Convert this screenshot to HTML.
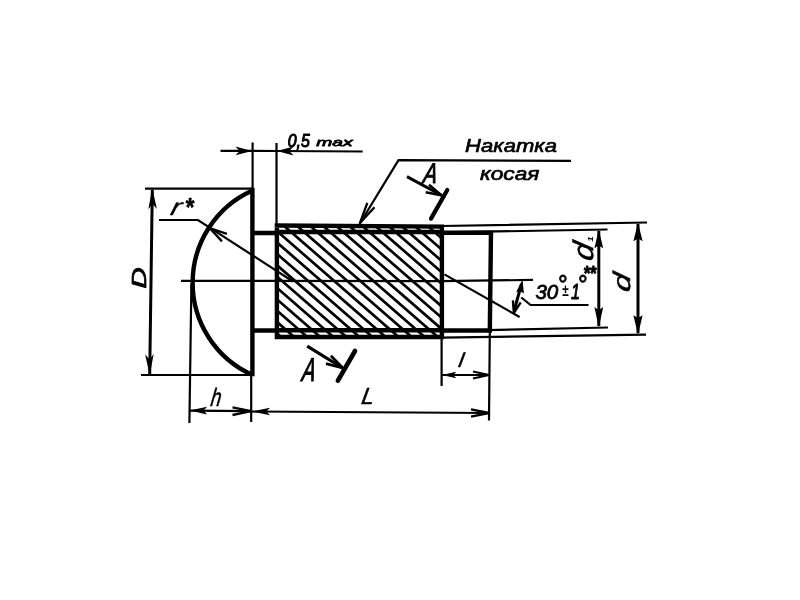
<!DOCTYPE html>
<html lang="ru">
<head>
<meta charset="utf-8">
<title>Чертёж</title>
<style>
html,body{margin:0;padding:0;background:#fff;}
body{width:800px;height:600px;overflow:hidden;position:relative;}
svg{position:absolute;left:0;top:0;display:block;will-change:transform;}
text{font-family:"Liberation Sans",sans-serif;font-style:italic;fill:#000;stroke-linejoin:round;}
.k{stroke:#000;stroke-width:4.4;fill:none;}
.t{stroke:#000;stroke-width:2.2;fill:none;}
.m{stroke:#000;stroke-width:3;fill:none;}
.h{stroke:#000;stroke-width:2.7;fill:none;}
.a{stroke:#000;stroke-width:2.3;fill:none;stroke-linejoin:round;}
.f{fill:#000;stroke:none;}
</style>
</head>
<body>
<svg width="800" height="600" viewBox="0 0 800 600">
<defs><clipPath id="kn"><rect x="276" y="225" width="166" height="112"/></clipPath></defs>
<rect width="800" height="600" fill="#fff"/>
<!-- knurl hatch -->
<g clip-path="url(#kn)"><path class="h" d="M101.1 214.4 L262.0 354.4 M114.2 214.4 L275.1 354.4 M127.2 214.4 L288.1 354.4 M140.3 214.4 L301.2 354.4 M153.3 214.4 L314.2 354.4 M166.4 214.4 L327.3 354.4 M179.4 214.4 L340.3 354.4 M192.5 214.4 L353.4 354.4 M205.5 214.4 L366.4 354.4 M218.6 214.4 L379.5 354.4 M231.6 214.4 L392.5 354.4 M244.7 214.4 L405.6 354.4 M257.7 214.4 L418.6 354.4 M270.8 214.4 L431.7 354.4 M283.8 214.4 L444.7 354.4 M296.9 214.4 L457.8 354.4 M309.9 214.4 L470.8 354.4 M323.0 214.4 L483.9 354.4 M336.0 214.4 L496.9 354.4 M349.1 214.4 L510.0 354.4 M362.1 214.4 L523.0 354.4 M375.2 214.4 L536.1 354.4 M388.2 214.4 L549.1 354.4 M401.3 214.4 L562.2 354.4 M414.3 214.4 L575.2 354.4 M427.4 214.4 L588.3 354.4"/></g>
<!-- centre line -->
<path class="t" d="M181 280.8 L441 281.2 L533 279.9"/>
<!-- head -->
<path class="k" d="M252.4 187.8 V376.2"/>
<path class="k" d="M252.5 190.5 A101 101 0 0 0 252.5 375" stroke-width="4.9"/>
<!-- shank -->
<path class="k" d="M252 233 H277 M252 330.5 H277"/>
<path class="k" d="M276.9 223.4 V339.2 M274.7 225.5 L444.1 226.6 M274.7 337 H444.1 M441.9 224.5 V339.2"/>
<path class="k" d="M276 232 H441.5 M276 330.2 H441.5" stroke-width="2.7"/>
<path class="k" d="M441 232.7 H493.2 M441 330.5 H492 M491 230.5 L489.8 332.7"/>
<!-- 0,5 max dimension -->
<path class="t" d="M252.6 142.5 V190 M276.5 143 V224"/>
<path class="t" d="M220.5 150.8 L277 151 L362.7 151.5"/>
<path class="f" d="M252.0 150.9 L235.5 155.3 L239.6 150.9 L235.5 146.5 Z M277.0 151.0 L293.5 146.6 L289.4 151.0 L293.5 155.4 Z"/>
<!-- D dimension -->
<path class="t" d="M145 188.7 H252 M141 375 H252"/>
<path class="m" d="M152.3 190 L149.7 374"/>
<path class="f" d="M152.3 188.2 L156.9 209.1 L152.5 203.9 L148.3 209.3 Z M149.7 375.2 L145.1 354.3 L149.5 359.5 L153.7 354.1 Z"/>
<!-- radius leader -->
<path class="t" d="M159 220 H198 L293 281.5"/>
<path class="a" d="M226.9 233.8 L209.6 228.0 L222.0 241.4"/>
<!-- h, L, l dimensions -->
<path class="t" d="M191.4 284 L189.4 423 M251.2 376 V422 M441.6 339 V386 M489.8 332 L489 420.5"/>
<path class="t" d="M189 410.6 L251 411.2 M252 411.5 L489 413 M441.6 375 H489"/>
<path class="f" d="M189.6 410.6 L207.1 406.8 L203.6 410.6 L207.1 414.4 Z M252.0 411.5 L270.0 407.7 L266.4 411.5 L270.0 415.3 Z M441.8 375.0 L456.3 371.7 L453.4 375.0 L456.3 378.3 Z"/>
<path class="a" d="M232.5 415.0 L251.0 411.2 L232.5 407.4 M471.0 416.6 L489.0 413.0 L471.0 409.4 M473.0 378.5 L489.0 375.0 L473.0 371.5"/>
<!-- d, d1 dimensions -->
<path class="t" d="M441 226 L647 222.5 M441 232.4 L607.5 229.5 M441 331.2 L608 327.5 M441 337.6 L646 334.6"/>
<path class="m" d="M598.8 231 V326" stroke-width="3.2"/>
<path class="m" d="M638 224 V333"/>
<path class="f" d="M598.8 229.7 L603.2 248.2 L598.8 245.4 L594.4 248.2 Z M598.8 327.6 L594.4 307.1 L598.8 310.2 L603.2 307.1 Z M638.0 222.7 L642.6 241.2 L638.0 238.4 L633.4 241.2 Z M638.0 334.7 L633.4 315.2 L638.0 318.1 L642.6 315.2 Z"/>
<!-- 30 deg angle -->
<path class="t" d="M444.4 274.4 L519.6 317"/>
<path class="m" d="M521.5 284 L514.6 309" stroke-width="2.2"/>
<path class="f" d="M522.5 279.4 L523.9 293.4 L520.3 291.3 L516.2 292.0 Z"/>
<path class="a" d="M512.9 300.4 L513.8 313.0 L520.7 302.4"/>
<path class="t" d="M521.3 297.5 L530.6 305 H588.5"/>
<!-- knurl leader -->
<path class="t" d="M571 160.8 L398.5 160.2 L359.5 224"/>
<path class="a" d="M367.3 202.9 L360.0 223.0 L374.5 207.2"/>
<!-- section marks A -->
<path d="M407 176.6 L441.4 195.3" stroke="#000" stroke-width="3" fill="none"/>
<path d="M425.7 192.3 L441.4 195.3 L429 184.8" stroke="#000" stroke-width="2.6" fill="none"/>
<path d="M447.3 190 L431 218.6" stroke="#000" stroke-width="4.2" stroke-linecap="round" fill="none"/>
<path d="M307.2 346.1 L342.7 368" stroke="#000" stroke-width="3.2" fill="none"/>
<path d="M326 363.6 L342.7 368 L330.9 355.7" stroke="#000" stroke-width="2.8" fill="none"/>
<path d="M355 351 L337.9 380.7" stroke="#000" stroke-width="4.6" stroke-linecap="round" fill="none"/>
<!-- labels -->
<text transform="translate(287.79 146.56) scale(0.793 0.940)" font-size="20" stroke="#000" stroke-width="1.16">0,5</text>
<text transform="translate(316.21 146.38) scale(1.284 0.776)" font-size="15" stroke="#000" stroke-width="1.00">max</text>
<text transform="translate(465.09 152.37) scale(1.225 0.988)" font-size="18" stroke="#000" stroke-width="0.64">Накатка</text>
<text transform="translate(480.01 180.07) scale(1.135 0.918)" font-size="20" stroke="#000" stroke-width="0.69">косая</text>
<text transform="translate(422.48 182.55) skewX(-8) scale(0.735 1.009)" font-size="28" stroke="#000" stroke-width="1.05">A</text>
<text transform="translate(301.23 381.15) skewX(-8) scale(0.615 1.028)" font-size="32" stroke="#000" stroke-width="1.13">A</text>
<text transform="translate(209.97 406.00) skewX(-8) scale(0.744 1.007)" font-size="25" stroke="#000" stroke-width="0.58">h</text>
<text transform="translate(360.63 404.30) skewX(-10) scale(1.008 1.054)" font-size="22" stroke="#000" stroke-width="0.58">L</text>
<text transform="translate(457.78 366.85) skewX(-8) scale(1.225 1.014)" font-size="20" stroke="#000" stroke-width="0.27">l</text>
<text transform="translate(169.38 214.85) skewX(-14) scale(1.411 1.069)" font-size="22" stroke="#000" stroke-width="0.24">r</text>
<text transform="translate(184.83 215.59) scale(0.943 1.047)" font-size="24" font-weight="bold" stroke="#000" stroke-width="0.50">*</text>
<text transform="translate(535.39 299.39) scale(0.979 0.986)" font-size="21" stroke="#000" stroke-width="0.81">30</text>
<text transform="translate(557.13 292.90) scale(1.139 1.224)" font-size="21" stroke="#000" stroke-width="0.68">°</text>
<text transform="translate(562.02 295.50) scale(0.990 1.344)" font-size="12" font-weight="bold">±</text>
<text transform="translate(571.00 299.10) scale(0.770 1.049)" font-size="21" stroke="#000" stroke-width="0.89">1</text>
<text transform="translate(577.13 292.90) scale(1.139 1.224)" font-size="21" stroke="#000" stroke-width="0.68">°</text>
<text transform="translate(583.16 280.33) scale(1.649 1.946)" font-size="10" font-weight="bold" stroke="#000" stroke-width="0.45">**</text>
<text transform="translate(145.55 288.43) rotate(-90) scale(1.396 1.001)" font-size="21" stroke="#000" stroke-width="0.76">D</text>
<text transform="translate(593.42 261.78) rotate(-90) skewX(-12) scale(1.191 1.088)" font-size="26" stroke="#000" stroke-width="0.53">d</text>
<text transform="translate(593.00 241.85) rotate(-90) scale(1.211 0.906)" font-size="8" font-weight="bold">1</text>
<text transform="translate(630.46 292.71) rotate(-90) skewX(-12) scale(1.280 0.958)" font-size="25" stroke="#000" stroke-width="0.54">d</text>
</svg>
</body>
</html>
